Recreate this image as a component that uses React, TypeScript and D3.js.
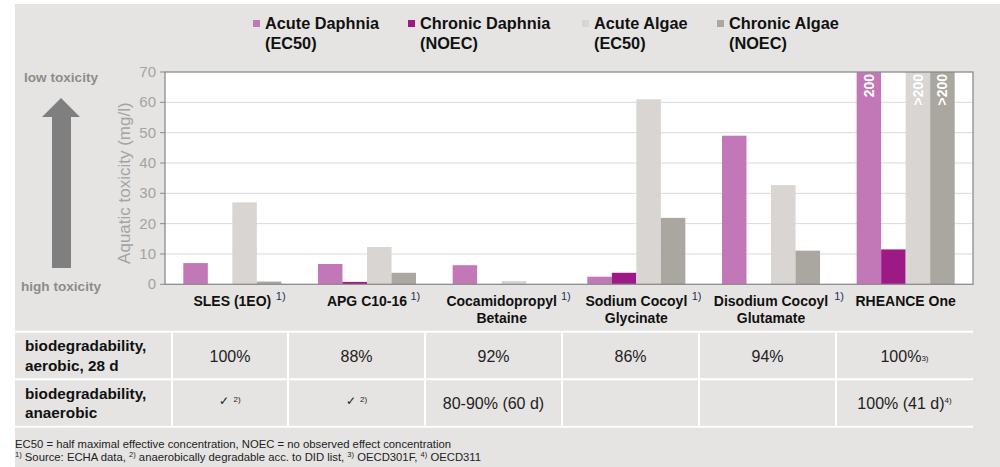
import React from "react";
import * as d3 from "d3";

const categories = [
  "SLES (1EO)",
  "APG C10-16",
  "Cocamidopropyl Betaine",
  "Sodium Cocoyl Glycinate",
  "Disodium Cocoyl Glutamate",
  "RHEANCE One",
];
const categoryLines = [
  ["SLES (1EO)"],
  ["APG C10-16"],
  ["Cocamidopropyl", "Betaine"],
  ["Sodium Cocoyl", "Glycinate"],
  ["Disodium Cocoyl", "Glutamate"],
  ["RHEANCE One"],
];
const categoryFootnote = ["1)", "1)", "1)", "1)", "1)", ""];

const seriesNames = ["Acute Daphnia", "Chronic Daphnia", "Acute Algae", "Chronic Algae"];
const seriesSub = ["(EC50)", "(NOEC)", "(EC50)", "(NOEC)"];
const seriesColors = ["#c278b6", "#9c1a86", "#d8d5d2", "#aaa6a0"];

const acuteDaphnia: (number | null)[] = [7, 6.7, 6.3, 2.5, 49, 200];
const chronicDaphnia: (number | null)[] = [null, 0.8, null, 3.8, null, 11.5];
const acuteAlgae: (number | null)[] = [27, 12.3, 1.1, 61, 32.7, 200];
const chronicAlgae: (number | null)[] = [0.9, 3.8, null, 21.9, 11.1, 200];
const rheanceLabels = ["200", "", ">200", ">200"];

const yTicks = [0, 10, 20, 30, 40, 50, 60, 70];

const aerobicRow = ["100%", "88%", "92%", "86%", "94%", "100%"];
const aerobicNote = ["", "", "", "", "", "3)"];
const anaerobicRow = ["✓", "✓", "80-90% (60 d)", "", "", "100% (41 d)"];
const anaerobicNote = ["2)", "2)", "", "", "", "4)"];

const FONT = "'Liberation Sans', Arial, Helvetica, sans-serif";

export default function App() {
  const W = 1000;
  const H = 467;
  const plot = { left: 165, right: 973, top: 72, bottom: 284.3 };
  const series = [acuteDaphnia, chronicDaphnia, acuteAlgae, chronicAlgae];

  const x0 = d3
    .scaleBand<string>()
    .domain(categories)
    .range([plot.left, plot.right])
    .paddingInner(0.272)
    .paddingOuter(0.136);
  const x1 = d3
    .scaleBand<string>()
    .domain(seriesNames)
    .range([0, x0.bandwidth()]);
  const y = d3
    .scaleLinear()
    .domain([0, 70])
    .range([plot.bottom, plot.top])
    .clamp(true);

  const step = x0.step();
  const tableCols = [172, 288, 425, 562, 699, 836, 973];
  const tableRows = [331.7, 379.3, 426.7];

  return (
    <svg width={W} height={H} style={{ display: "block", position: "absolute", left: 0, top: 0 }} fontFamily={FONT}>
      <rect x={0} y={0} width={W} height={H} fill="#ffffff" />
      <rect x={15} y={4} width={W - 15} height={H - 4} fill="#e5e4e2" />

      {/* Legend */}
      {seriesNames.map((s, i) => {
        const lx = [253, 408, 582, 717][i];
        return (
          <g key={s}>
            <rect x={lx} y={20} width={7} height={7} fill={seriesColors[i]} />
            <text x={lx + 12} y={29} fontSize={16.3} fontWeight="bold" fill="#111">
              {s}
            </text>
            <text x={lx + 12} y={49} fontSize={16.3} fontWeight="bold" fill="#111">
              {seriesSub[i]}
            </text>
          </g>
        );
      })}

      {/* Plot background */}
      <rect x={plot.left} y={plot.top} width={plot.right - plot.left} height={plot.bottom - plot.top} fill="#ffffff" />
      {yTicks.map((t) => (
        <g key={t}>
          {t > 0 && t < 70 && (
            <line x1={plot.left} x2={plot.right} y1={y(t)} y2={y(t)} stroke="#d9d9d9" strokeWidth={1} />
          )}
          <line x1={plot.left - 5} x2={plot.left} y1={y(t)} y2={y(t)} stroke="#8c8c8c" strokeWidth={1} />
          <text x={plot.left - 9} y={y(t) + 5} textAnchor="end" fontSize={15} fill="#a3a3a3">
            {t}
          </text>
        </g>
      ))}

      {/* Bars */}
      {categories.map((c, ci) => (
        <g key={c}>
          {series.map((vals, si) => {
            const v = vals[ci];
            if (v == null) return null;
            const bx = (x0(c) as number) + (x1(seriesNames[si]) as number);
            const by = y(v);
            return (
              <rect
                key={si}
                x={bx}
                y={by}
                width={x1.bandwidth()}
                height={plot.bottom - by}
                fill={seriesColors[si]}
              />
            );
          })}
          {ci === categories.length - 1 &&
            rheanceLabels.map((lab, si) => {
              if (!lab) return null;
              const cx = (x0(c) as number) + (x1(seriesNames[si]) as number) + x1.bandwidth() / 2;
              return (
                <text
                  key={"l" + si}
                  transform={`translate(${cx + 5},${plot.top + 2}) rotate(-90)`}
                  textAnchor="end"
                  fontSize={14}
                  fontWeight="bold"
                  fill="#ffffff"
                >
                  {lab}
                </text>
              );
            })}
        </g>
      ))}

      {/* Frame and axes */}
      <rect
        x={plot.left}
        y={plot.top}
        width={plot.right - plot.left}
        height={plot.bottom - plot.top}
        fill="none"
        stroke="#8c8c8c"
        strokeWidth={1.3}
      />

      {/* Y axis title */}
      <text
        transform={`translate(${130},${(plot.top + plot.bottom) / 2 + 5}) rotate(-90)`}
        textAnchor="middle"
        fontSize={17}
        fill="#a3a3a3"
      >
        Aquatic toxicity (mg/l)
      </text>

      {/* Toxicity arrow */}
      <text x={61} y={82} textAnchor="middle" fontSize={13.6} fontWeight="bold" fill="#8c8c8c">
        low toxicity
      </text>
      <path d="M61,98 L80,117 L71,117 L71,268 L52,268 L52,117 L42,117 Z" fill="#7f7f7f" />
      <text x={61} y={291} textAnchor="middle" fontSize={13.6} fontWeight="bold" fill="#8c8c8c">
        high toxicity
      </text>

      {/* Category labels */}
      {categories.map((c, ci) => {
        const cx = (x0(c) as number) + x0.bandwidth() / 2;
        const lines = categoryLines[ci];
        return (
          <g key={"cl" + c}>
            {lines.map((ln, li) => (
              <text
                key={li}
                x={cx}
                y={306 + li * 17}
                textAnchor="middle"
                fontSize={14}
                fontWeight="bold"
                fill="#111"
              >
                {ln}
              </text>
            ))}
            {categoryFootnote[ci] && (
              <text
                x={cx + (lines[0].length * 7.9) / 2 + 4}
                y={300}
                fontSize={11}
                fill="#1f2f5f"
              >
                {categoryFootnote[ci]}
              </text>
            )}
          </g>
        );
      })}

      {/* Table */}
      {tableRows.map((ry, i) => (
        <line key={"tr" + i} x1={15} x2={973} y1={ry} y2={ry} stroke="#ffffff" strokeWidth={2} />
      ))}
      {tableCols.slice(0, 6).map((cx, i) => (
        <line key={"tc" + i} x1={cx} x2={cx} y1={tableRows[0]} y2={tableRows[2]} stroke="#ffffff" strokeWidth={2} />
      ))}
      <text x={25} y={351} fontSize={15.3} fontWeight="bold" fill="#111">
        biodegradability,
      </text>
      <text x={25} y={371} fontSize={15.3} fontWeight="bold" fill="#111">
        aerobic, 28 d
      </text>
      <text x={25} y={399} fontSize={15.3} fontWeight="bold" fill="#111">
        biodegradability,
      </text>
      <text x={25} y={418} fontSize={15.3} fontWeight="bold" fill="#111">
        anaerobic
      </text>
      {aerobicRow.map((v, i) => {
        const cx = (tableCols[i] + tableCols[i + 1]) / 2;
        return (
          <text key={"a" + i} x={cx} y={362} textAnchor="middle" fontSize={16} fill="#222">
            {v}
            {aerobicNote[i] && (
              <tspan fontSize={8} dy={-1}>
                {aerobicNote[i]}
              </tspan>
            )}
          </text>
        );
      })}
      {anaerobicRow.map((v, i) => {
        const cx = (tableCols[i] + tableCols[i + 1]) / 2;
        if (!v) return null;
        const isCheck = v === "✓";
        return (
          <text
            key={"b" + i}
            x={cx}
            y={isCheck ? 405 : 409}
            textAnchor="middle"
            fontSize={isCheck ? 12 : 16}
            fill="#222"
          >
            {v}
            {anaerobicNote[i] && (
              <tspan fontSize={8} dx={isCheck ? 4 : 0} dy={isCheck ? -3 : -6}>
                {anaerobicNote[i]}
              </tspan>
            )}
          </text>
        );
      })}

      {/* Footnotes */}
      <text x={15} y={448} fontSize={11.3} fill="#222">
        EC50 = half maximal effective concentration, NOEC = no observed effect concentration
      </text>
      <text x={15} y={461} fontSize={11.3} fill="#222">
        <tspan fontSize={7.5} dy={-4}>1)</tspan>
        <tspan dy={4}> Source: ECHA data, </tspan>
        <tspan fontSize={7.5} dy={-4}>2)</tspan>
        <tspan dy={4}> anaerobically degradable acc. to DID list, </tspan>
        <tspan fontSize={7.5} dy={-4}>3)</tspan>
        <tspan dy={4}> OECD301F, </tspan>
        <tspan fontSize={7.5} dy={-4}>4)</tspan>
        <tspan dy={4}> OECD311</tspan>
      </text>
    </svg>
  );
}
